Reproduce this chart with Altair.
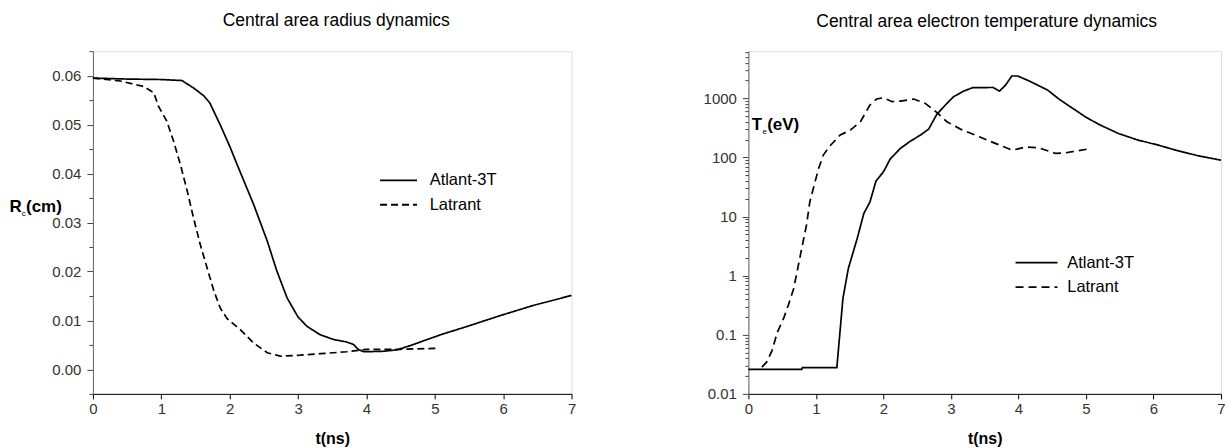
import altair as alt
import pandas as pd

FONT = "Liberation Sans"
series_names = ["Atlant-3T", "Latrant"]

# ---- Left panel: central area radius (cm) vs t (ns)
t_rad_atlant = [0, 0.5, 1.0, 1.3, 1.47, 1.62, 1.71, 1.86, 2.0, 2.11, 2.35, 2.55, 2.69, 2.84,
                3.0, 3.13, 3.32, 3.52, 3.71, 3.81, 3.88, 3.96, 4.25, 4.45, 4.65, 5.09, 5.48,
                5.96, 6.45, 7.0]
r_atlant = [0.0595, 0.0593, 0.0592, 0.0590, 0.0575, 0.0559, 0.0544, 0.0500, 0.0456, 0.0418,
            0.0337, 0.0262, 0.0201, 0.0146, 0.0107, 0.0088, 0.0071, 0.0061, 0.0056, 0.0051,
            0.0041, 0.0036, 0.0037, 0.0040, 0.0049, 0.0071, 0.0088, 0.0110, 0.0131, 0.0151]

t_rad_latrant = [0, 0.4, 0.74, 0.89, 0.96, 1.08, 1.18, 1.28, 1.38, 1.47, 1.57, 1.67, 1.77,
                 1.86, 1.96, 2.15, 2.35, 2.55, 2.74, 3.03, 3.32, 3.71, 4.0, 4.5, 5.01]
r_latrant = [0.0595, 0.0589, 0.0578, 0.0565, 0.0537, 0.0507, 0.0466, 0.0418, 0.0364, 0.0310,
             0.0255, 0.0207, 0.0160, 0.0126, 0.0104, 0.0082, 0.0054, 0.0034, 0.0027, 0.0029,
             0.0032, 0.0036, 0.0041, 0.0041, 0.0043]

# ---- Right panel: central area electron temperature (eV) vs t (ns)
t_te_atlant = [0, 0.79, 0.8, 1.31, 1.40, 1.48, 1.61, 1.71, 1.80, 1.89, 2.0, 2.10, 2.25, 2.40,
               2.55, 2.67, 2.79, 2.94, 3.04, 3.19, 3.32, 3.62, 3.72, 3.81, 3.90, 3.99, 4.16,
               4.43, 4.60, 4.79, 4.99, 5.19, 5.48, 5.77, 6.07, 6.36, 6.66, 7.0]
te_atlant = [0.026, 0.026, 0.0277, 0.0277, 0.41, 1.32, 4.2, 11.3, 17.6, 40, 57, 94, 142, 189,
             240, 302, 535, 822, 1070, 1330, 1515, 1530, 1330, 1680, 2390, 2390, 1970,
             1385, 975, 694, 489, 363, 255, 197, 162, 130, 107, 90]

t_te_latrant = [0.20, 0.27, 0.35, 0.43, 0.52, 0.59, 0.67, 0.73, 0.79, 0.86, 0.91, 0.98, 1.04,
                1.11, 1.21, 1.36, 1.51, 1.66, 1.80, 1.90, 2.0, 2.13, 2.25, 2.45, 2.62, 2.79,
                2.94, 3.14, 3.42, 3.72, 3.91, 4.11, 4.30, 4.55, 4.70, 5.01]
te_latrant = [0.0283, 0.0344, 0.054, 0.111, 0.187, 0.314, 0.60, 1.31, 2.9, 7.1, 17.7, 36, 65,
              110, 158, 240, 290, 403, 770, 975, 1025, 880, 900, 975, 822, 580, 403, 302,
              224, 162, 133, 151, 146, 117, 120, 138]

# ---- Axis ticks
x_ticks = [0, 1, 2, 3, 4, 5, 6, 7]
r_ticks = [-0.005, 0.0, 0.005, 0.01, 0.015, 0.02, 0.025, 0.03, 0.035, 0.04, 0.045, 0.05,
           0.055, 0.06, 0.065]
te_major = [0.01, 0.1, 1, 10, 100, 1000]
te_ticks = [round(m * d, 3) for d in te_major for m in range(1, 10) if m * d <= 6300]


def frame(t, v, name):
    return pd.DataFrame({"t": t, "v": v, "series": name})


rad_df = pd.concat([frame(t_rad_atlant, r_atlant, "Atlant-3T"),
                    frame(t_rad_latrant, r_latrant, "Latrant")])
te_df = pd.concat([frame(t_te_atlant, te_atlant, "Atlant-3T"),
                   frame(t_te_latrant, te_latrant, "Latrant")])

W_L, W_R, H = 479, 473, 343


def x_axis():
    return alt.Axis(values=x_ticks, format="d", title="t(ns)", tickSize=5, tickColor="#000",
                    domainColor="#000", labelFont=FONT, labelFontSize=15, labelColor="#333",
                    labelPadding=3, labelFlush=False, titleFont=FONT, titleFontSize=16,
                    titleFontWeight="bold", titleColor="#000", titlePadding=14, grid=False)


def legend(lx, ly, path, offset, label_expr="datum.label"):
    return alt.Legend(title=None, orient="none", legendX=lx, legendY=ly, symbolType=path,
                      symbolSize=100, symbolStrokeWidth=1.8, symbolStrokeColor="#000",
                      labelFont=FONT, labelFontSize=16.5, labelColor="#000",
                      labelOffset=offset, padding=0, rowPadding=7.5, labelExpr=label_expr)


def title(txt, dx):
    return alt.TitleParams(txt, font=FONT, fontSize=17.5, fontWeight="normal", color="#000",
                           anchor="middle", frame="group", baseline="alphabetic", offset=0.5,
                           dx=dx)


def note(txt, x, y, size, weight="bold"):
    return alt.Chart(pd.DataFrame({"s": [txt]})).mark_text(
        font=FONT, fontSize=size, fontWeight=weight, align="left", baseline="middle",
        color="#000").encode(x=alt.value(x), y=alt.value(y), text="s:N")


major_r = "abs(datum.value*100 - round(datum.value*100)) < 0.001"
left_lines = alt.Chart(rad_df).mark_line(color="#000", strokeWidth=1.7).encode(
    x=alt.X("t:Q", scale=alt.Scale(domain=[0, 7], nice=False), axis=x_axis()),
    y=alt.Y("v:Q", scale=alt.Scale(domain=[-0.005, 0.065], nice=False, zero=False),
            axis=alt.Axis(values=r_ticks, labelExpr=f"{major_r} ? format(datum.value, '.2f') : ''",
                          labelOverlap=False, tickSize={"condition": {"test": major_r, "value": 6}, "value": 4},
                          tickColor="#444", domainColor="#666", labelFont=FONT, labelFontSize=15,
                          labelColor="#333", labelPadding=6, grid=False,
                          title="R", titleAngle=0, titleAlign="left", titleBaseline="middle",
                          titleX=-84, titleY=155.5, titleFont=FONT, titleFontSize=17,
                          titleFontWeight="bold", titleColor="#000")),
    strokeDash=alt.StrokeDash("series:N", scale=alt.Scale(domain=series_names, range=[[1, 0], [7, 4]]),
                              legend=legend(297.6, 121, "M-3.7,0H3.7", 22.9)),
)
left = alt.layer(left_lines, note("c", -71.3, 163, 8, "normal"), note("(cm)", -67, 155.5, 17)
                 ).properties(width=W_L, height=H, title=title("Central area radius dynamics", 4))

major_te = "indexof([0.01,0.1,1,10,100,1000], datum.value) >= 0"
right_lines = alt.Chart(te_df).mark_line(color="#000", strokeWidth=1.7).encode(
    x=alt.X("t:Q", scale=alt.Scale(domain=[0, 7], nice=False), axis=x_axis()),
    y=alt.Y("v:Q", scale=alt.Scale(type="log", domain=[0.01, 6300], nice=False),
            axis=alt.Axis(values=te_ticks, format="~g", labelExpr=f"{major_te} ? datum.label : ''",
                          labelOverlap=False, tickSize={"condition": {"test": major_te, "value": 6}, "value": 3.5},
                          tickColor="#444", domainColor="#666", labelFont=FONT, labelFontSize=15,
                          labelColor="#333", labelPadding=6, grid=False, title=None)),
    strokeDash=alt.StrokeDash("series:N", scale=alt.Scale(domain=series_names, range=[[1, 0], [8, 5]]),
                              legend=legend(280.1, 203.5, "M-4.2,0H4.2", 22.5,
                                            "datum.label == 'Latrant' ? '\u00a0Latrant' : datum.label")),
)
right = alt.layer(right_lines, note("T", 3.4, 74, 17), note("e", 14.2, 81, 8, "normal"),
                  note("(eV)", 18.8, 74, 17)).properties(
    width=W_R, height=H, title=title("Central area electron temperature dynamics", 2))

chart = alt.hconcat(left, right, spacing=177, bounds="flush").resolve_scale(
    strokeDash="independent", x="independent", y="independent"
).properties(
    padding={"left": 8, "top": 11, "right": 0, "bottom": 0}
).configure_view(stroke="#333", strokeWidth=1).configure(background="white")

chart.save("out.html", embed_options={"renderer": "svg", "actions": False})
